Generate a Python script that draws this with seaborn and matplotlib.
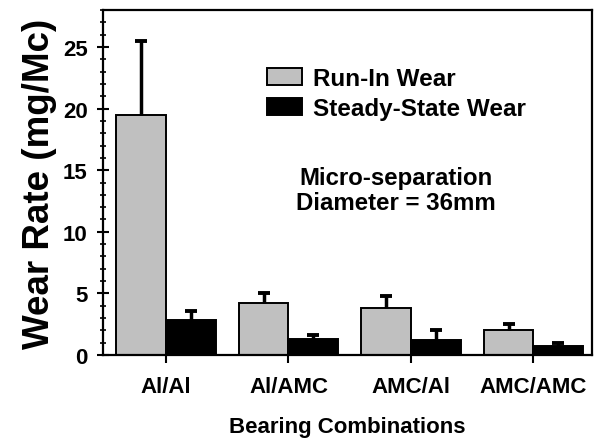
import numpy as np
import pandas as pd
import matplotlib
matplotlib.use("Agg")
import matplotlib.pyplot as plt
import seaborn as sns
from matplotlib.patches import Patch
from matplotlib.ticker import MultipleLocator

# ---- data ----
combos = ["Al/Al", "Al/AMC", "AMC/Al", "AMC/AMC"]
series = ["Run-In Wear", "Steady-State Wear"]
run_in = [19.5, 4.2, 3.8, 2.0]
run_in_err = [6.0, 0.8, 1.0, 0.5]
steady = [2.85, 1.3, 1.25, 0.75]
steady_err = [0.75, 0.35, 0.8, 0.25]

df = pd.DataFrame({
    "combo": combos * 2,
    "type": [series[0]] * 4 + [series[1]] * 4,
    "rate": run_in + steady,
})

sns.set_style("ticks")
plt.rcParams["font.family"] = ["Liberation Sans", "DejaVu Sans"]
plt.rcParams["font.weight"] = "bold"
for k in ["text.color", "axes.labelcolor", "xtick.color", "ytick.color", "axes.edgecolor"]:
    plt.rcParams[k] = "black"

fig = plt.figure(figsize=(5.97, 4.39), dpi=100)
ax = fig.add_axes([103/597, 83/439, 489/597, 345/439])

colors = ["#c0c0c0", "#000000"]
sns.barplot(data=df, x="combo", y="rate", hue="type", hue_order=series,
            order=combos, palette=colors, edgecolor="black", linewidth=1.4,
            width=0.81, errorbar=None, ax=ax, legend=False, saturation=1)

errs = [run_in_err, steady_err]
vals = [run_in, steady]
for cont, e, v in zip(ax.containers, errs, vals):
    xs = [p.get_x() + p.get_width() / 2 for p in cont.patches]
    _, caps, _ = ax.errorbar(xs, v, yerr=[np.zeros(len(e)), e], fmt="none",
                             ecolor="black", elinewidth=2.5, capsize=4.5,
                             capthick=2.8, zorder=5)
    caps[0].set_visible(False)

ax.set_ylim(0, 28)
ax.set_xlim(-0.514, 3.478)
ax.yaxis.set_major_locator(MultipleLocator(5))
ax.yaxis.set_minor_locator(MultipleLocator(1))
ax.tick_params(axis="y", which="major", direction="inout", length=8, width=1.5,
               labelsize=16, pad=7, colors="black")
ax.tick_params(axis="y", which="minor", direction="inout", length=4.5, width=1.2,
               colors="black")
ax.tick_params(axis="x", which="major", direction="out", length=6, width=1.5,
               labelsize=16, pad=9, colors="black")
for lab in ax.get_xticklabels() + ax.get_yticklabels():
    lab.set_fontweight("bold")

for s in ax.spines.values():
    s.set_visible(True)
    s.set_linewidth(1.6)
    s.set_color("black")

ax.set_xlabel("Bearing Combinations", fontsize=16, fontweight="bold", labelpad=14)
ax.set_ylabel("Wear Rate (mg/Mc)", fontsize=26.5, fontweight="bold", labelpad=4)

handles = [Patch(facecolor=colors[0], edgecolor="black", linewidth=1.4),
           Patch(facecolor=colors[1], edgecolor="black", linewidth=1.4)]
ax.legend(handles, series, loc="upper left", bbox_to_anchor=(0.335, 0.835),
          frameon=False, prop={"size": 17.5, "weight": "bold"}, handlelength=1.45,
          handleheight=0.7, handletextpad=0.45, labelspacing=0.3,
          borderpad=0, borderaxespad=0)

ax.text(0.599, 0.478, "Micro-separation\nDiameter = 36mm", transform=ax.transAxes,
        ha="center", va="center", fontsize=17.3, fontweight="bold", linespacing=1.15)

fig.savefig("out.png", dpi=100)
